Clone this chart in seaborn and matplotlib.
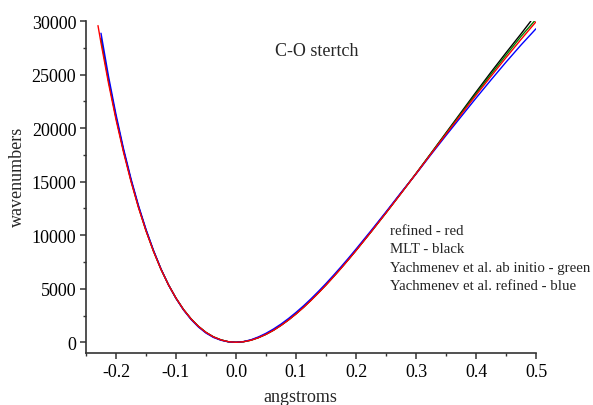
import matplotlib
matplotlib.use("Agg")
import matplotlib.pyplot as plt
import seaborn as sns
import pandas as pd
from matplotlib.ticker import MultipleLocator

# ---- data ----
x_red = [-0.23, -0.225, -0.2125, -0.2, -0.1875, -0.175, -0.1625, -0.15, -0.1375, -0.125,
         -0.1125, -0.1, -0.0875, -0.075, -0.0625, -0.05, -0.0375, -0.025, -0.0125, 0.0,
         0.0125, 0.025, 0.0375, 0.05, 0.0625, 0.075, 0.0875, 0.1, 0.1125, 0.125, 0.1375,
         0.15, 0.1625, 0.175, 0.1875, 0.2,
         0.225, 0.25, 0.275, 0.3, 0.325, 0.35, 0.375, 0.4, 0.425, 0.45, 0.475, 0.5]
red = [29570, 27960, 24200, 20800, 17750, 15010, 12570, 10400, 8490, 6810,
       5360, 4120, 3060, 2190, 1480, 920, 500, 220, 50, 0,
       50, 190, 430, 740, 1120, 1570, 2080, 2640, 3250, 3910, 4610,
       5340, 6110, 6900, 7720, 8560,
       10300, 12080, 13900, 15740, 17600, 19440, 21260, 23070, 24840, 26580, 28280, 29930]

x_black = [-0.225, -0.2125, -0.2, -0.1875, -0.175, -0.1625, -0.15, -0.1375, -0.125,
           -0.1125, -0.1, -0.0875, -0.075, -0.0625, -0.05, -0.0375, -0.025, -0.0125, 0.0,
           0.0125, 0.025, 0.0375, 0.05, 0.0625, 0.075, 0.0875, 0.1, 0.1125, 0.125, 0.1375,
           0.15, 0.1625, 0.175, 0.1875, 0.2,
           0.225, 0.25, 0.275, 0.3, 0.325, 0.35, 0.375, 0.4, 0.425, 0.45, 0.475, 0.4915]
black = [28360, 24500, 21020, 17920, 15140, 12660, 10460, 8530, 6830,
         5370, 4120, 3060, 2190, 1480, 920, 500, 220, 50, 0,
         55, 200, 440, 750, 1135, 1590, 2100, 2665, 3280, 3940, 4640,
         5375, 6140, 6935, 7750, 8590,
         10320, 12100, 13920, 15760, 17650, 19560, 21460, 23360, 25220, 27030, 28800, 30000]

x_green = [-0.225, -0.2125, -0.2, -0.1875, -0.175, -0.1625, -0.15, -0.1375, -0.125,
           -0.1125, -0.1, -0.0875, -0.075, -0.0625, -0.05, -0.0375, -0.025, -0.0125, 0.0,
           0.0125, 0.025, 0.0375, 0.05, 0.0625, 0.075, 0.0875, 0.1, 0.1125, 0.125, 0.1375,
           0.15, 0.1625, 0.175, 0.1875, 0.2,
           0.225, 0.25, 0.275, 0.3, 0.325, 0.35, 0.375, 0.4, 0.425, 0.45, 0.475, 0.4975]
green = [28300, 24450, 21000, 17900, 15120, 12640, 10450, 8520, 6820,
         5365, 4120, 3060, 2190, 1480, 920, 500, 220, 50, 0,
         55, 200, 440, 750, 1130, 1585, 2095, 2660, 3275, 3935, 4635,
         5370, 6135, 6930, 7745, 8580,
         10310, 12090, 13910, 15750, 17630, 19500, 21360, 23210, 25030, 26810, 28560, 30000]

x_blue = [-0.225, -0.2125, -0.2, -0.1875, -0.175, -0.1625, -0.15, -0.1375, -0.125,
          -0.1125, -0.1, -0.0875, -0.075, -0.0625, -0.05, -0.0375, -0.025, -0.0125, 0.0,
          0.0125, 0.025, 0.0375, 0.05, 0.0625, 0.075, 0.0875, 0.1, 0.1125, 0.125, 0.1375,
          0.15, 0.1625, 0.175, 0.1875, 0.2,
          0.225, 0.25, 0.275, 0.3, 0.325, 0.35, 0.375, 0.4, 0.425, 0.45, 0.475, 0.5]
blue = [28860, 24850, 21280, 18100, 15280, 12770, 10550, 8590, 6850,
        5360, 4100, 3020, 2135, 1420, 860, 450, 190, 40, 0,
        65, 235, 505, 840, 1240, 1700, 2220, 2790, 3400, 4060, 4760,
        5490, 6255, 7045, 7860, 8700,
        10420, 12180, 13980, 15710, 17530, 19310, 21060, 22800, 24500, 26160, 27760, 29280]

x_ticks = [-0.2, -0.1, 0.0, 0.1, 0.2, 0.3, 0.4, 0.5]
y_ticks = [0, 5000, 10000, 15000, 20000, 25000, 30000]
legend_lines = ["refined - red", "MLT - black",
                "Yachmenev et al. ab initio - green",
                "Yachmenev et al. refined - blue"]

sns.set_style("ticks")
plt.rcParams["font.family"] = ["Liberation Serif", "DejaVu Serif"]

fig = plt.figure(figsize=(5.93, 4.06), dpi=100)
ax = fig.add_axes([0.145, 0.1281, 0.7589, 0.8177])

series = [(x_black, black, "black"), (x_green, green, "#008000"),
          (x_blue, blue, "blue"), (x_red, red, "red")]
for xs, ys, c in series:
    df = pd.DataFrame({"x": xs, "y": ys})
    sns.lineplot(data=df, x="x", y="y", ax=ax, color=c, lw=1.0,
                 sort=False, estimator=None)

ax.set_xlim(-0.25, 0.5)
ax.set_ylim(-1000, 30000)
ax.set_xticks(x_ticks)
ax.set_xticklabels([f"{v:.1f}" for v in x_ticks])
ax.set_yticks(y_ticks)
ax.set_yticklabels([str(v) for v in y_ticks])
ax.xaxis.set_minor_locator(MultipleLocator(0.05))
ax.yaxis.set_minor_locator(MultipleLocator(2500))

for s in ["top", "right"]:
    ax.spines[s].set_visible(False)
for s in ["left", "bottom"]:
    ax.spines[s].set_linewidth(1.2)
    ax.spines[s].set_color("#333333")
ax.tick_params(which="major", direction="out", length=4, width=1.1,
               color="#333333", labelsize=13, labelcolor="black", pad=3)
ax.tick_params(which="minor", direction="out", length=2.5, width=1.0,
               color="#333333")

ax.set_xlabel("angstroms", fontsize=13, va="center")
ax.set_ylabel("wavenumbers", fontsize=13, va="center")
ax.xaxis.set_label_coords(0.477, -0.1325)
ax.yaxis.set_label_coords(-0.153, 0.535)

ax.text(317 / 593, 1 - 52 / 406, "C-O stertch", transform=fig.transFigure,
        ha="center", va="center", fontsize=13)
for i, t in enumerate(legend_lines):
    ax.text(390 / 593, 1 - (235 + i * 18.3) / 406, t, transform=fig.transFigure,
            ha="left", va="baseline", fontsize=10.7)

fig.savefig("out.png", dpi=100)
